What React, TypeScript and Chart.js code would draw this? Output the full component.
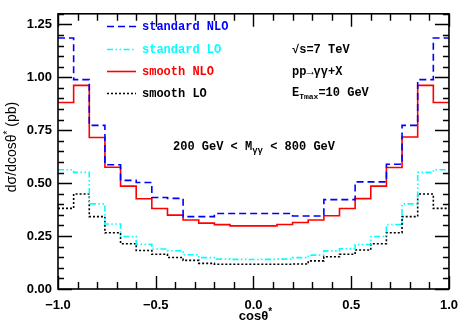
import React, { useEffect, useRef } from 'react';
import { Chart, registerables } from 'chart.js';

Chart.register(...registerables);

// Bin edges of cos(theta*) histogram (25 bins)
const binEdges = [
  -1, -0.92, -0.84, -0.76, -0.68, -0.6, -0.52, -0.44, -0.36, -0.28, -0.2, -0.12, -0.04,
  0.04, 0.12, 0.2, 0.28, 0.36, 0.44, 0.52, 0.6, 0.68, 0.76, 0.84, 0.92, 1,
];

const standardNLO = [
  1.186, 0.989, 0.773, 0.587, 0.513, 0.503, 0.432, 0.428, 0.342, 0.342, 0.357, 0.357, 0.357,
  0.357, 0.357, 0.345, 0.345, 0.422, 0.422, 0.506, 0.506, 0.589, 0.773, 0.989, 1.186,
];
const standardLO = [
  0.563, 0.551, 0.402, 0.307, 0.248, 0.211, 0.189, 0.181, 0.162, 0.148, 0.141, 0.14, 0.139,
  0.14, 0.141, 0.148, 0.16, 0.18, 0.19, 0.21, 0.248, 0.305, 0.402, 0.551, 0.563,
];
const smoothNLO = [
  0.881, 0.962, 0.716, 0.575, 0.486, 0.426, 0.38, 0.349, 0.326, 0.311, 0.304, 0.298, 0.298,
  0.298, 0.305, 0.314, 0.326, 0.346, 0.38, 0.427, 0.486, 0.574, 0.718, 0.962, 0.881,
];
const smoothLO = [
  0.381, 0.449, 0.342, 0.266, 0.214, 0.182, 0.164, 0.149, 0.135, 0.121, 0.117, 0.117, 0.117,
  0.117, 0.117, 0.118, 0.133, 0.152, 0.164, 0.184, 0.214, 0.266, 0.342, 0.449, 0.381,
];

const seriesLabels = ['standard NLO', 'standard LO', 'smooth NLO', 'smooth LO'];
const seriesColors = ['#0000ff', '#00ffff', '#ff0000', '#000000'];
const seriesDashes: number[][] = [[7, 4], [6, 2.5, 1.5, 2.5, 1.5, 2.5], [], [2, 2]];

const xTickValues = [-1, -0.5, 0, 0.5, 1];
const xTickLabels = ['\u22121.0', '\u22120.5', '0.0', '0.5', '1.0'];
const yTickValues = [0, 0.25, 0.5, 0.75, 1, 1.25];
const yTickLabels = ['0.00', '0.25', '0.50', '0.75', '1.00', '1.25'];

const MONO = '"Liberation Mono", "DejaVu Sans Mono", monospace';

type Piece = { t: string; f: string; dy?: number };

function drawRich(ctx: CanvasRenderingContext2D, pieces: Piece[], x: number, y: number, align: 'left' | 'center', color: string) {
  let w = 0;
  for (const p of pieces) {
    ctx.font = p.f;
    w += ctx.measureText(p.t).width;
  }
  let cx = align === 'center' ? x - w / 2 : x;
  ctx.fillStyle = color;
  ctx.textAlign = 'left';
  ctx.textBaseline = 'alphabetic';
  for (const p of pieces) {
    ctx.font = p.f;
    ctx.fillText(p.t, cx, y + (p.dy || 0));
    cx += ctx.measureText(p.t).width;
  }
}

const decorPlugin = {
  id: 'decor',
  afterDraw(chart: any) {
    const { ctx, chartArea: a, scales } = chart;
    const xs = scales.x;
    const ys = scales.y;
    ctx.save();
    // frame
    ctx.strokeStyle = '#000';
    ctx.lineWidth = 1.6;
    ctx.setLineDash([]);
    ctx.strokeRect(a.left, a.top, a.right - a.left, a.bottom - a.top);
    // x ticks (every 0.1, major every 0.5)
    ctx.lineWidth = 1.4;
    for (let i = 0; i <= 20; i++) {
      const v = -1 + i * 0.1;
      const px = Math.round(xs.getPixelForValue(v)) + 0.5;
      const len = i % 5 === 0 ? 13 : 7;
      ctx.beginPath();
      ctx.moveTo(px, a.bottom);
      ctx.lineTo(px, a.bottom - len);
      ctx.moveTo(px, a.top);
      ctx.lineTo(px, a.top + len);
      ctx.stroke();
    }
    // y ticks (every 0.05, major every 0.25)
    for (let i = 0; i <= 26; i++) {
      const v = i * 0.05;
      const py = Math.round(ys.getPixelForValue(v)) + 0.5;
      const len = i % 5 === 0 ? 14 : 6;
      ctx.beginPath();
      ctx.moveTo(a.left, py);
      ctx.lineTo(a.left + len, py);
      ctx.moveTo(a.right, py);
      ctx.lineTo(a.right - len, py);
      ctx.stroke();
    }
    // legend
    const rowsLine = [26, 49, 71, 93];
    chart.data.datasets.forEach((ds: any, i: number) => {
      ctx.strokeStyle = ds.borderColor;
      ctx.lineWidth = ds.borderWidth;
      ctx.setLineDash(ds.borderDash || []);
      ctx.beginPath();
      ctx.moveTo(107, rowsLine[i] + 0.5);
      ctx.lineTo(136, rowsLine[i] + 0.5);
      ctx.stroke();
      ctx.setLineDash([]);
      drawRich(ctx, [{ t: ds.label, f: `bold 12px ${MONO}` }], 142, rowsLine[i] + 4, 'left', ds.borderColor);
    });
    // annotations
    const f = `bold 12px ${MONO}`;
    const fs = `bold 8px ${MONO}`;
    drawRich(ctx, [{ t: '\u221As=7 TeV', f }], 292, 53, 'left', '#000');
    drawRich(ctx, [{ t: 'pp\u2192\u03B3\u03B3+X', f }], 292, 75, 'left', '#000');
    drawRich(ctx, [{ t: 'E', f }, { t: 'Tmax', f: fs, dy: 3 }, { t: '=10 GeV', f }], 292, 96, 'left', '#000');
    drawRich(
      ctx,
      [{ t: '200 GeV < M', f }, { t: '\u03B3\u03B3', f: `bold 9px ${MONO}`, dy: 3 }, { t: ' < 800 GeV', f }],
      173,
      150,
      'left',
      '#000'
    );
    // axis titles
    const tf = '14px "Liberation Sans", Arial, sans-serif';
    const tfs = '10px "Liberation Sans", Arial, sans-serif';
    drawRich(ctx, [{ t: 'cos\u03B8', f: 'bold 13px "Liberation Sans", Arial, sans-serif' }, { t: '*', f: 'bold 10px "Liberation Sans", Arial, sans-serif', dy: -5 }], xs.getPixelForValue(0) + 2, 320, 'center', '#000');
    ctx.save();
    ctx.translate(16, 147);
    ctx.rotate(-Math.PI / 2);
    drawRich(ctx, [{ t: 'd\u03C3/dcos\u03B8', f: tf }, { t: '*', f: tfs, dy: -5 }, { t: ' (pb)', f: tf }], 0, 0, 'center', '#000');
    ctx.restore();
    ctx.restore();
  },
};

export default function App() {
  const ref = useRef<HTMLCanvasElement>(null);
  useEffect(() => {
    const canvas = ref.current;
    if (!canvas) return;
    const mk = (arr: number[]) => binEdges.map((x, i) => ({ x, y: arr[Math.min(i, arr.length - 1)] }));
    const allSeries = [standardNLO, standardLO, smoothNLO, smoothLO];
    const chart = new Chart(canvas, {
      type: 'line',
      data: {
        datasets: allSeries.map((s, i) => ({
          label: seriesLabels[i],
          data: mk(s),
          borderColor: seriesColors[i],
          borderDash: seriesDashes[i],
          borderWidth: 1.6,
          stepped: true,
          pointRadius: 0,
          fill: false,
          tension: 0,
        })),
      },
      options: {
        responsive: false,
        animation: false,
        devicePixelRatio: 1,
        layout: { padding: { top: 4, right: 12, left: 0, bottom: 0 } },
        plugins: { legend: { display: false }, tooltip: { enabled: false } },
        scales: {
          x: {
            type: 'linear',
            min: -1,
            max: 1,
            grid: { display: false, drawTicks: false },
            border: { display: false },
            afterBuildTicks: (s: any) => {
              s.ticks = xTickValues.map((v) => ({ value: v }));
            },
            ticks: {
              padding: 9,
              maxRotation: 0,
              autoSkip: false,
              color: '#000',
              font: { family: '"Liberation Sans", Arial, sans-serif', size: 13, weight: 'bold' },
              callback: (v: any) => {
                const k = xTickValues.findIndex((t) => Math.abs(t - Number(v)) < 1e-6);
                return k >= 0 ? xTickLabels[k] : '';
              },
            },
            afterFit: (s: any) => {
              s.height = 39;
            },
          },
          y: {
            type: 'linear',
            min: 0,
            max: 1.3,
            grid: { display: false, drawTicks: false },
            border: { display: false },
            afterBuildTicks: (s: any) => {
              s.ticks = yTickValues.map((v) => ({ value: v }));
            },
            ticks: {
              padding: 6,
              autoSkip: false,
              color: '#000',
              font: { family: '"Liberation Sans", Arial, sans-serif', size: 13, weight: 'bold' },
              callback: (v: any) => {
                const k = yTickValues.findIndex((t) => Math.abs(t - Number(v)) < 1e-6);
                return k >= 0 ? yTickLabels[k] : '';
              },
            },
            afterFit: (s: any) => {
              s.width = 58;
            },
          },
        },
      } as any,
      plugins: [decorPlugin],
    });
    return () => chart.destroy();
  }, []);
  return (
    <div style={{ position: 'fixed', left: 0, top: 0, width: 467, height: 328, background: '#fff' }}>
      <canvas ref={ref} width={467} height={328} style={{ display: 'block' }} />
    </div>
  );
}
